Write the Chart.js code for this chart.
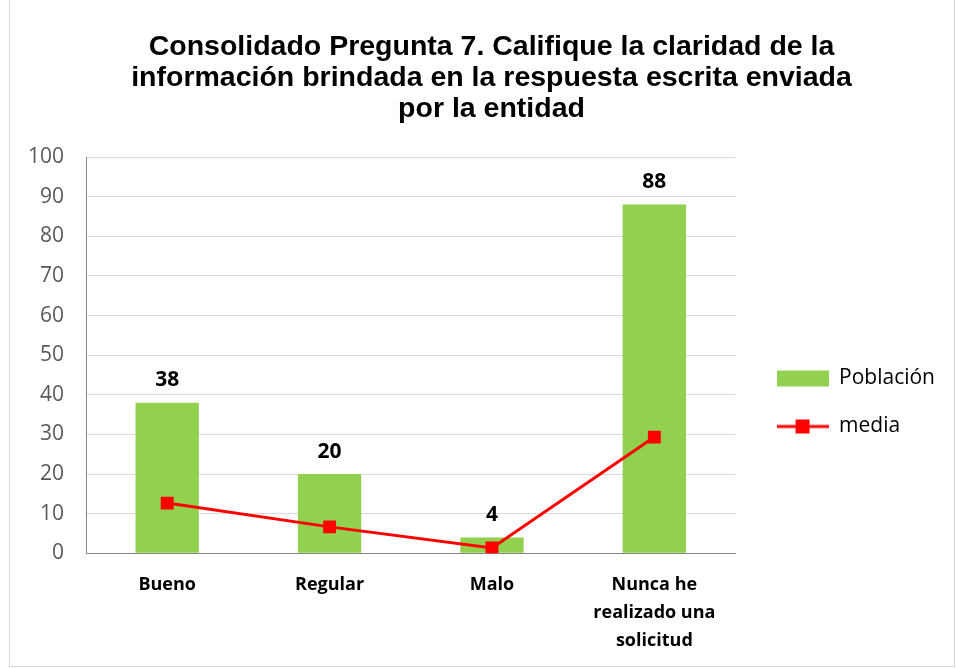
<!DOCTYPE html>
<html>
<head>
<meta charset="utf-8">
<script src="https://cdn.jsdelivr.net/npm/chart.js@4.4.0/dist/chart.umd.min.js"></script>
<style>
  body { margin: 0; background: #fff; }
  #wrap { position: absolute; left: 9px; top: -1px; width: 946px; height: 668px; border: 1px solid #d9d9d9; box-sizing: border-box; }
  canvas { position: absolute; left: 0; top: 0; }
</style>
</head>
<body>
<div id="wrap"><canvas id="myChart" width="944" height="667"></canvas></div>
<script>
const categories = [["Bueno"], ["Regular"], ["Malo"], ["Nunca he", "realizado una", "solicitud"]];
const poblacion = [38, 20, 4, 88];
const media = [12.67, 6.67, 1.33, 29.33];
const yTicks = [0, 10, 20, 30, 40, 50, 60, 70, 80, 90, 100];

// legend icons
function icon(kind) {
  let c = document.createElement('canvas');
  c.width = 52; c.height = 18;
  let g = c.getContext('2d');
  if (kind === 'bar') {
    g.fillStyle = '#92D050';
    g.fillRect(0, 1, 52, 16);
  } else {
    g.strokeStyle = '#FF0000';
    g.lineWidth = 3;
    g.beginPath(); g.moveTo(0, 9); g.lineTo(52, 9); g.stroke();
    g.fillStyle = '#FF0000';
    g.fillRect(19, 2, 14, 14);
  }
  return c;
}

const barLabels = {
  id: 'barLabels',
  afterLayout(chart) {
    // push the legend down / right a bit, like the original
    chart.legend.top += 55;
    chart.legend.bottom += 55;
    chart.legend.left += 14;
    chart.legend.right += 14;
    // title sits a bit right of canvas centre
    chart.titleBlock.left += 14;
    chart.titleBlock.right += 14;
    chart.titleBlock.top += 1;
    chart.titleBlock.bottom += 1;
  },
  afterDatasetsDraw(chart) {
    let ctx = chart.ctx;
    let meta = chart.getDatasetMeta(1);
    ctx.save();
    ctx.font = 'bold 21px "Open Sans", sans-serif';
    ctx.fillStyle = '#000';
    ctx.textAlign = 'center';
    ctx.textBaseline = 'bottom';
    meta.data.forEach((bar, i) => {
      ctx.fillText(poblacion[i], bar.x, bar.y - 12);
    });
    ctx.restore();
  }
};

let ctx = document.getElementById('myChart').getContext('2d');
new Chart(ctx, {
  data: {
    labels: categories,
    datasets: [{
      type: 'line',
      label: 'media',
      data: media,
      borderColor: '#FF0000',
      backgroundColor: '#FF0000',
      borderWidth: 3,
      pointStyle: 'rect',
      pointRadius: 7,
      pointHoverRadius: 7,
      order: 0
    }, {
      type: 'bar',
      label: 'Población',
      data: poblacion,
      backgroundColor: '#92D050',
      categoryPercentage: 1,
      barPercentage: 0.39,
      order: 1
    }]
  },
  options: {
    responsive: false,
    animation: false,
    layout: { padding: { left: 14, right: 23, top: 30, bottom: 2 } },
    scales: {
      x: {
        grid: { display: false },
        border: { color: '#868686' },
        ticks: { color: '#000', font: { family: '"Open Sans", sans-serif', size: 18, weight: 'bold', lineHeight: 1.55 }, padding: 10, maxRotation: 0 }
      },
      y: {
        min: 0, max: 100,
        afterBuildTicks: axis => { axis.ticks = yTicks.map(v => ({ value: v })); },
        afterFit: axis => { axis.width = 62; },
        grid: { color: '#d9d9d9', drawTicks: false },
        border: { color: '#868686' },
        ticks: { color: '#595959', font: { family: '"Open Sans", sans-serif', size: 21 }, padding: 22 }
      }
    },
    plugins: {
      title: {
        display: true,
        text: ['Consolidado Pregunta 7. Califique la claridad de la', 'información brindada en la respuesta escrita enviada', 'por la entidad'],
        color: '#000',
        font: { family: '"Liberation Sans", Arial, sans-serif', size: 28.5, weight: 'bold', lineHeight: 1.1 },
        padding: { top: 0, bottom: 33 }
      },
      legend: {
        position: 'right',
        labels: {
          usePointStyle: true,
          pointStyleWidth: 52,
          boxHeight: 18,
          color: '#000',
          font: { family: '"Open Sans", sans-serif', size: 21 },
          padding: 27,
          generateLabels: chart => [
            { text: 'Población', pointStyle: icon('bar'), datasetIndex: 1, fontColor: '#000' },
            { text: 'media', pointStyle: icon('line'), datasetIndex: 0, fontColor: '#000' }
          ]
        }
      },
      tooltip: { enabled: false }
    }
  },
  plugins: [barLabels]
});
</script>
</body>
</html>
